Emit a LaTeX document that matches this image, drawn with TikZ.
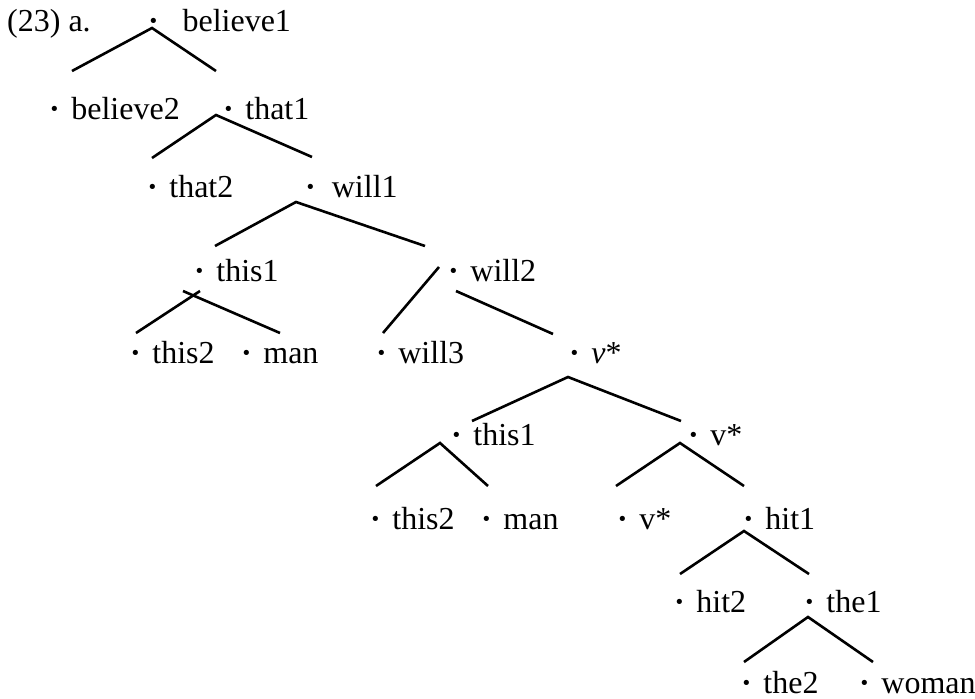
\documentclass[tikz,border=0pt]{standalone}
\usepackage{fontspec}
\setmainfont{Liberation Serif}
\newcommand{\bul}[1][0.36em]{\textbf{·}\hspace{#1}}

\begin{document}
\begin{tikzpicture}[x=1pt, y=-1pt,
  every node/.style={anchor=base west, inner sep=0pt, font=\fontsize{32}{38}\selectfont}
]
\tikzset{
  ramo/.style={draw=black, line width=2.6pt}
}
\useasboundingbox (0,0) rectangle (975,699);

\node (ex) at (7,31) {(23) a.};
\node (believe1) at (148,31) {\bul[0.74em]believe1};
\node (believe2) at (49,119) {\bul believe2};
\node (that1) at (223,119) {\bul that1};
\node (that2) at (147,197) {\bul that2};
\node (will1) at (305,197) {\bul[0.5em]will1};
\node (this1a) at (194,281) {\bul this1};
\node (will2) at (448,281) {\bul will2};
\node (this2a) at (130,363) {\bul this2};
\node (mana) at (241,363) {\bul man};
\node (will3) at (376,363) {\bul will3};
\node (vsa) at (569,363) {\bul\textit{v}*};
\node (this1b) at (451,445) {\bul this1};
\node (vsb) at (688,445) {\bul v*};
\node (this2b) at (370,529) {\bul this2};
\node (manb) at (481,529) {\bul man};
\node (vsc) at (617,529) {\bul v*};
\node (hit1) at (743,529) {\bul hit1};
\node (hit2) at (674,612) {\bul hit2};
\node (the1) at (804,612) {\bul the1};
\node (the2) at (741,693) {\bul the2};
\node (woman) at (859,693) {\bul woman};

\coordinate (b1) at (152,28);  \coordinate (b1l) at (72,71);   \coordinate (b1r) at (216,71);
\coordinate (t1) at (216,115); \coordinate (t1l) at (152,158); \coordinate (t1r) at (312,157);
\coordinate (w1) at (296,202); \coordinate (w1l) at (215,246); \coordinate (w1r) at (425,246);
\coordinate (ta1) at (200,291); \coordinate (ta1l) at (136,333);
\coordinate (ta2) at (183,291); \coordinate (ta2r) at (280,333);
\coordinate (w2a) at (439,267); \coordinate (w2l) at (383,333);
\coordinate (w2b) at (456,291); \coordinate (w2r) at (553,334);
\coordinate (va) at (568,377); \coordinate (val) at (472,421); \coordinate (var) at (681,421);
\coordinate (tb) at (440,443); \coordinate (tbl) at (376,486); \coordinate (tbr) at (488,486);
\coordinate (vb) at (680,443); \coordinate (vbl) at (616,486); \coordinate (vbr) at (744,486);
\coordinate (h1) at (744,531); \coordinate (h1l) at (680,574); \coordinate (h1r) at (809,574);
\coordinate (e1) at (808,617); \coordinate (e1l) at (744,662); \coordinate (e1r) at (873,662);

\draw[ramo] (b1l) -- (b1) -- (b1r);
\draw[ramo] (t1l) -- (t1) -- (t1r);
\draw[ramo] (w1l) -- (w1) -- (w1r);
\draw[ramo] (ta1) -- (ta1l);
\draw[ramo] (ta2) -- (ta2r);
\draw[ramo] (w2a) -- (w2l);
\draw[ramo] (w2b) -- (w2r);
\draw[ramo] (val) -- (va) -- (var);
\draw[ramo] (tbl) -- (tb) -- (tbr);
\draw[ramo] (vbl) -- (vb) -- (vbr);
\draw[ramo] (h1l) -- (h1) -- (h1r);
\draw[ramo] (e1l) -- (e1) -- (e1r);
\end{tikzpicture}
\end{document}
